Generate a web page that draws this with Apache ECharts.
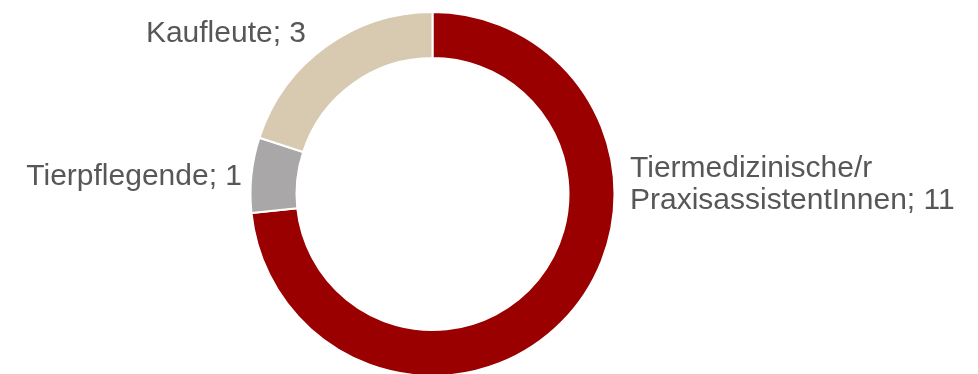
<!DOCTYPE html>
<html>
<head>
<meta charset="utf-8">
<script src="https://cdn.jsdelivr.net/npm/echarts@6/dist/echarts.min.js"></script>
<style>
  html, body { margin: 0; padding: 0; background: #ffffff; }
  #chart { width: 978px; height: 374px; }
</style>
</head>
<body>
<div id="chart"></div>
<script>
// Occupational groups and their counts
const categories = ['Tiermedizinische/r\nPraxisassistentInnen', 'Tierpflegende', 'Kaufleute'];
const counts = [11, 1, 3];
const colors = ['#9a0000', '#a9a7a7', '#d8c9b1'];

// Label anchor placement per slice (x, y, horizontal alignment)
const labelSpots = [
  { x: 630, y: 185, align: 'left' },
  { x: 242, y: 177, align: 'right' },
  { x: 306, y: 34, align: 'right' }
];

const chart = echarts.init(document.getElementById('chart'), null, { renderer: 'canvas' });

chart.setOption({
  animation: false,
  series: [{
    type: 'pie',
    center: [432.5, 194],
    radius: [136, 182],
    startAngle: 90,
    clockwise: true,
    avoidLabelOverlap: false,
    itemStyle: { borderColor: '#ffffff', borderWidth: 2 },
    label: {
      show: true,
      position: 'outside',
      formatter: '{b}; {c}',
      color: '#575757',
      fontFamily: 'Liberation Sans, Arial, sans-serif',
      fontSize: 30,
      lineHeight: 32
    },
    labelLine: { show: false },
    labelLayout: function (params) {
      const s = labelSpots[params.dataIndex];
      return { x: s.x, y: s.y, align: s.align, verticalAlign: 'middle' };
    },
    data: categories.map((name, i) => ({
      name: name,
      value: counts[i],
      itemStyle: { color: colors[i] }
    }))
  }]
});
</script>
</body>
</html>
